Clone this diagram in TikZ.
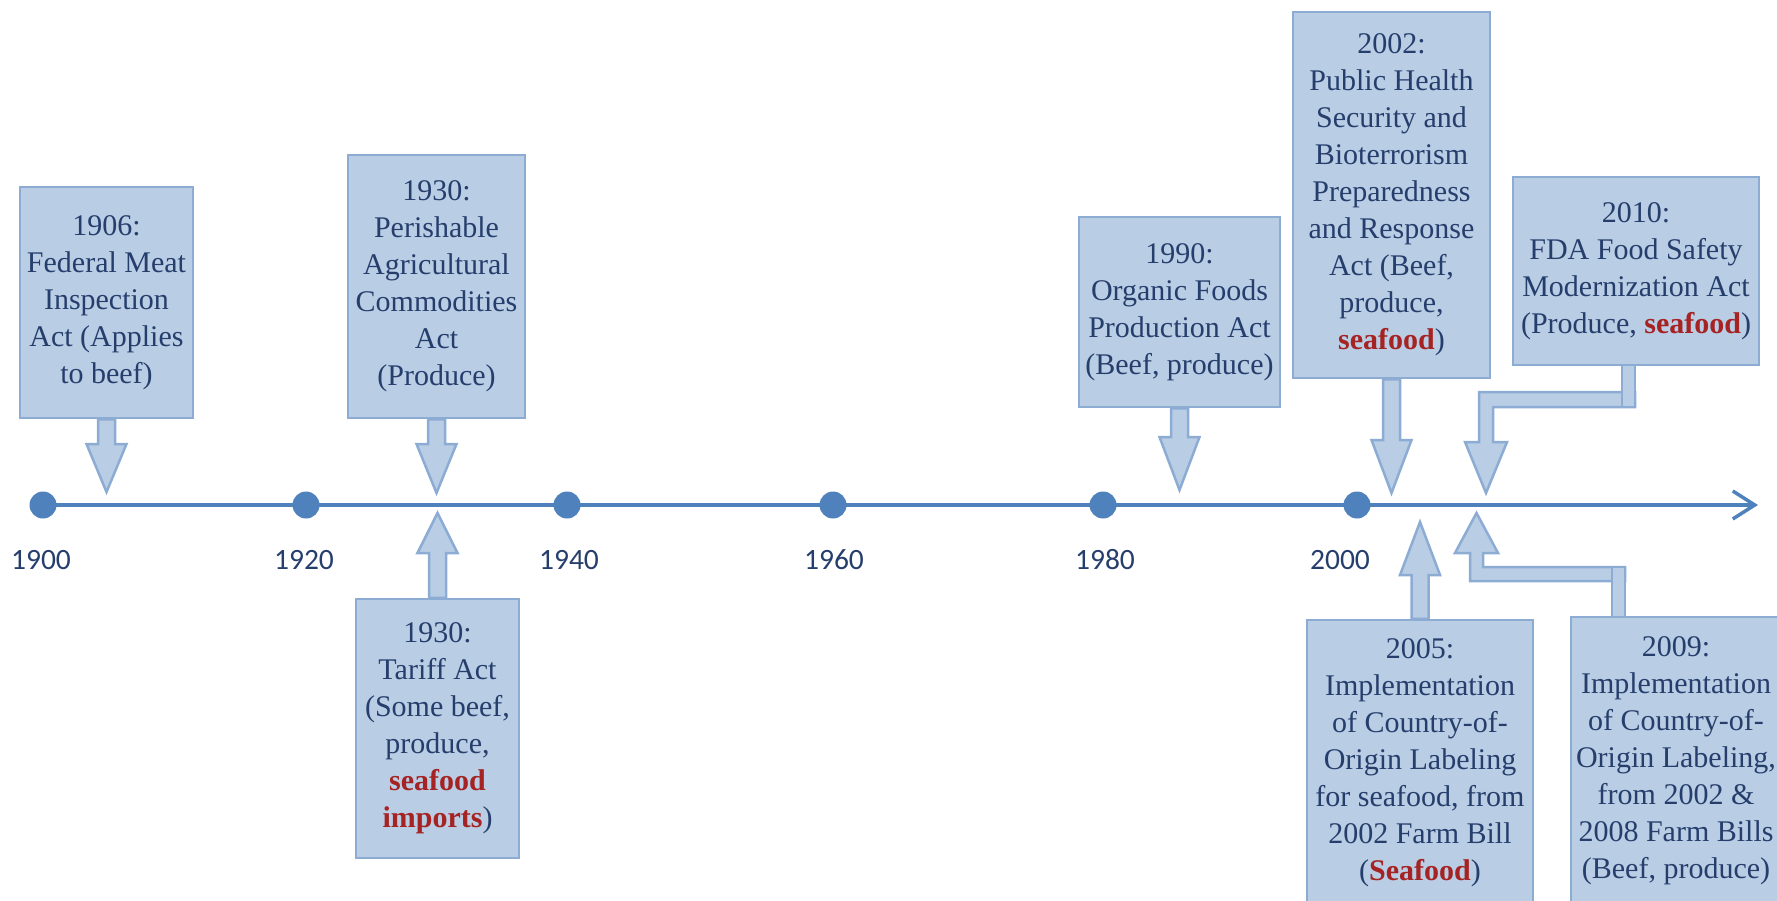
\documentclass[tikz,border=0pt]{standalone}
\usepackage{fontspec}
\setmainfont{LiberationSerif}[Extension=.ttf, UprightFont=*-Regular, BoldFont=*-Bold,
  ItalicFont=*-Italic, BoldItalicFont=*-BoldItalic]
\newfontfamily\boxserif{LiberationSerif}[Extension=.ttf, UprightFont=*-Regular, BoldFont=*-Bold]
\newfontfamily\yearfont{Carlito}
\usetikzlibrary{arrows.meta,calc,backgrounds}

\definecolor{boxfill}{RGB}{185,205,229}
\definecolor{boxline}{RGB}{141,172,212}
\definecolor{inktext}{RGB}{38,62,108}
\definecolor{seared}{RGB}{165,35,35}
\definecolor{axisblue}{RGB}{79,129,189}

% bold red highlight for seafood
\newcommand\hl[1]{\textcolor{seared}{\textbf{#1}}}

% block arrow leaving a box anchor: #1 anchor, #2 y of head base, #3 y of tip
\newcommand\calloutarrow[3]{%
  \filldraw[blockarrow] let \p1=(#1) in
    ({\x1-8.5pt},\y1) -- ({\x1-8.5pt},{-#2pt}) -- ({\x1-20pt},{-#2pt})
    -- (\x1,{-#3pt}) -- ({\x1+20pt},{-#2pt}) -- ({\x1+8.5pt},{-#2pt})
    -- ({\x1+8.5pt},\y1) -- cycle;}

\begin{document}
\begin{tikzpicture}[x=1pt,y=-1pt,
  eventbox/.style={draw=boxline, fill=boxfill, line width=2.5pt, inner sep=0pt,
    align=center, text=inktext, font={\boxserif\fontsize{30}{37}\selectfont}},
  blockarrow/.style={fill=boxfill, draw=boxline, line width=2.5pt, line join=miter},
  yeardot/.style={circle, fill=axisblue, minimum size=27pt, inner sep=0pt},
  yearlbl/.style={text=inktext, font={\yearfont\fontsize{29.5}{35}\selectfont}},
  timeline/.style={draw=axisblue, line width=3.5pt,
    -{Straight Barb[length=22pt,width=28pt]}}]

\useasboundingbox (0,0) rectangle (1777,901);

% ---- time axis ----
\coordinate (tlend) at (1758,505);
\node[yeardot] (d1900) at (43,505) {};
\node[yeardot] (d1920) at (306,505) {};
\node[yeardot] (d1940) at (567,505) {};
\node[yeardot] (d1960) at (833,505) {};
\node[yeardot] (d1980) at (1103,505) {};
\node[yeardot] (d2000) at (1357,505) {};
\begin{scope}[on background layer]
  \draw[timeline] (d1900.center) -- (tlend);
\end{scope}

\node[yearlbl] (y1900) at (41,560) {1900};
\node[yearlbl] (y1920) at (304,560) {1920};
\node[yearlbl] (y1940) at (569,560) {1940};
\node[yearlbl] (y1960) at (834,560) {1960};
\node[yearlbl] (y1980) at (1105,560) {1980};
\node[yearlbl] (y2000) at (1340,560) {2000};

% ---- events above the axis ----
\node[eventbox, minimum width=173pt, minimum height=231pt] (b1906) at (106.5,302.5)
  {1906:\\Federal Meat\\Inspection\\Act (Applies\\to beef)};
\node[eventbox, minimum width=177pt, minimum height=263pt] (b1930a) at (436.5,286.5)
  {1930:\\Perishable\\Agricultural\\Commodities\\Act\\(Produce)};
\node[eventbox, minimum width=201pt, minimum height=190pt] (b1990) at (1179.5,312)
  {1990:\\Organic Foods\\Production Act\\(Beef, produce)};
\node[eventbox, minimum width=197pt, minimum height=366pt] (b2002) at (1391.5,195)
  {2002:\\Public Health\\Security and\\Bioterrorism\\Preparedness\\and Response\\Act (Beef,\\produce,\\\hl{seafood})};
\node[eventbox, minimum width=246pt, minimum height=188pt] (b2010) at (1636,271)
  {2010:\\FDA Food Safety\\Modernization Act\\(Produce, \hl{seafood})};

% ---- events below the axis ----
\node[eventbox, minimum width=163pt, minimum height=259pt] (b1930t) at (437.5,728.5)
  {1930:\\Tariff Act\\(Some beef,\\produce,\\\hl{seafood}\\\hl{imports})};
\node[eventbox, minimum width=226pt, minimum height=285pt] (b2005) at (1420,762.5)
  {2005:\\Implementation\\of Country-of-\\Origin Labeling\\for seafood, from\\2002 Farm Bill\\(\hl{Seafood})};
\node[eventbox, minimum width=210pt, minimum height=288pt] (b2009) at (1676,761)
  {2009:\\Implementation\\of Country-of-\\Origin Labeling,\\from 2002 \&\\2008 Farm Bills\\(Beef, produce)};

% ---- block arrows pointing at the axis ----
\begin{scope}[on background layer]
  \calloutarrow{b1906.south}{444}{492}
  \calloutarrow{b1930a.south}{444}{493}
  \calloutarrow{b1990.south}{437}{490}
  \calloutarrow{b2002.south}{440}{493}
  \calloutarrow{b1930t.north}{553}{513}
  \calloutarrow{b2005.north}{575}{522}
  % bent arrow from the 2010 box
  \filldraw[blockarrow] (1635,392) -- (1479,392) -- (1479,442) -- (1465,442)
    -- (1486,493) -- (1507,442) -- (1493,442) -- (1493,407) -- (1635,407) -- cycle;
  \filldraw[blockarrow] (1622,360) rectangle (1635,407);
  % bent arrow from the 2009 box
  \filldraw[blockarrow] (1625,581) -- (1470,581) -- (1470,553) -- (1455,553)
    -- (1476.5,513) -- (1498,553) -- (1483,553) -- (1483,567) -- (1625,567) -- cycle;
  \filldraw[blockarrow] (1612,567) rectangle (1625,622);
\end{scope}

\end{tikzpicture}
\end{document}
